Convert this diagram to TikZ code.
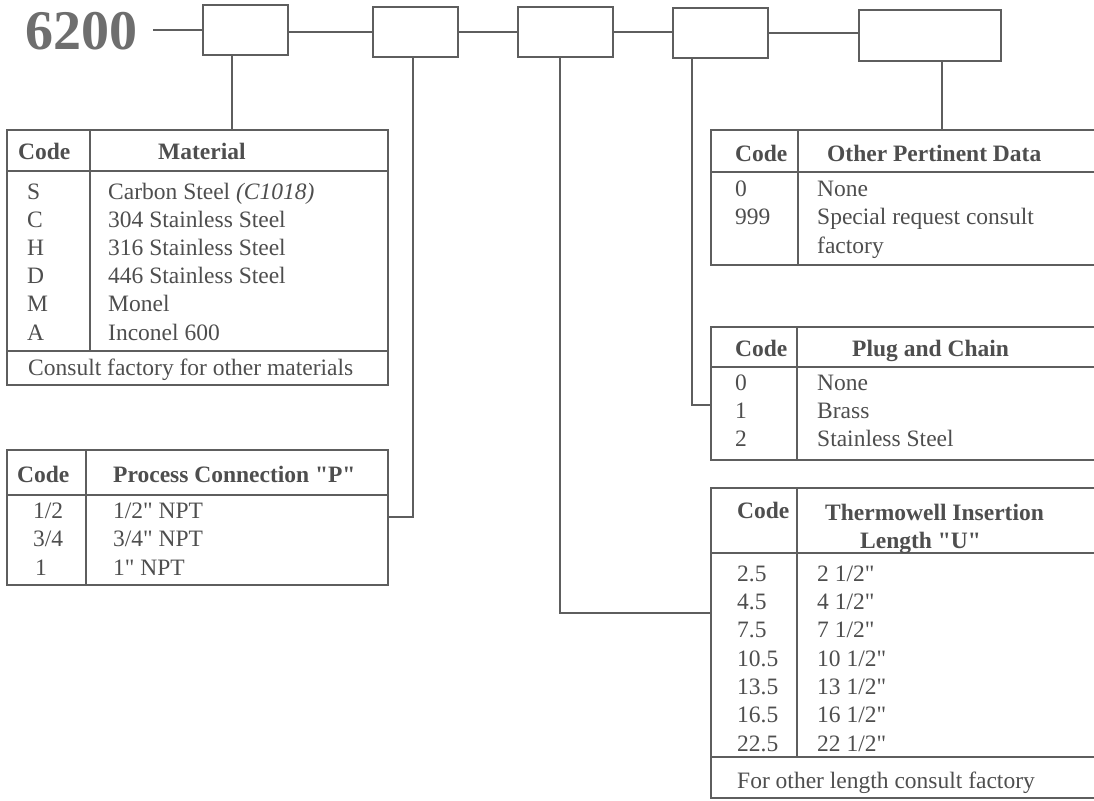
\documentclass[tikz,border=0pt]{standalone}
\usepackage{fontspec}
\setmainfont{Liberation Serif}[Ligatures=TeXOff]
\definecolor{lc}{HTML}{5E5E5E}
\definecolor{tc}{HTML}{4E4E4E}
\definecolor{nc}{HTML}{6E6E6E}
\newcommand{\dq}{{\char34}}
\begin{document}
\begin{tikzpicture}[x=1pt,y=-1pt,
  ln/.style={draw=lc, line width=1.8pt},
  box/.style={ln, rectangle, inner sep=0pt, minimum height=50pt},
  tbl/.style={ln, rectangle, inner sep=0pt},
  txt/.style={font=\fontsize{23.5}{28.3}\selectfont, text=tc, inner sep=0pt, anchor=base west},
  hd/.style={txt, font=\fontsize{23.5}{28.3}\selectfont\bfseries},
  big/.style={font=\fontsize{56}{60}\selectfont\bfseries, text=nc, inner sep=0pt, anchor=base west}]
\useasboundingbox (0,0) rectangle (1094,800);
\fill[white] (0,0) rectangle (1094,800);

% code boxes
\node[big] (num) at (25,49) {6200};
\node[box, minimum width=85pt] (b1) at (245.5,30) {};
\node[box, minimum width=85pt] (b2) at (415.5,32) {};
\node[box, minimum width=95pt] (b3) at (565.5,32) {};
\node[box, minimum width=95pt] (b4) at (720.5,33) {};
\node[box, minimum width=142pt, minimum height=51pt] (b5) at (930,35.5) {};
\coordinate (s0) at (153,30);
\draw[ln] (s0) -- (b1.west);
\draw[ln] (b1.east |- b2.west) -- (b2.west);
\draw[ln] (b2.east) -- (b3.west);
\draw[ln] (b3.east) -- (b3.east -| b4.west);
\draw[ln] (b4.east) -- (b4.east -| b5.west);

% tables (outlines)
\node[tbl, minimum width=381pt, minimum height=255pt] (mat) at (197.5,257.5) {};
\node[tbl, minimum width=381pt, minimum height=135pt] (proc) at (197.5,517.5) {};
\node[tbl, minimum width=399pt, minimum height=135pt] (oth) at (910.5,197.5) {};
\node[tbl, minimum width=399pt, minimum height=133pt] (plug) at (910.5,393.5) {};
\node[tbl, minimum width=399pt, minimum height=310pt] (thw) at (910.5,643) {};

% inner table lines
\draw[ln] (7,171) -- (388,171);
\draw[ln] (7,351) -- (388,351);
\draw[ln] (90,130) -- (90,351);
\draw[ln] (7,495) -- (388,495);
\draw[ln] (86,450) -- (86,585);
\draw[ln] (711,172) -- (1110,172);
\draw[ln] (798,130) -- (798,265);
\draw[ln] (711,367) -- (1110,367);
\draw[ln] (797,327) -- (797,460);
\draw[ln] (711,553) -- (1110,553);
\draw[ln] (711,757) -- (1110,757);
\draw[ln] (797,488) -- (797,757);

% connectors
\coordinate (c1) at (232,55);
\draw[ln] (c1) -- (c1 |- mat.north);
\coordinate (c2) at (413,57);
\coordinate (h2) at (388,517);
\draw[ln] (c2) |- (h2);
\coordinate (c3) at (560,57);
\coordinate (h3) at (711,613);
\draw[ln] (c3) |- (h3);
\coordinate (c4) at (692,58);
\coordinate (h4) at (711,405);
\draw[ln] (c4) |- (h4);
\coordinate (c5) at (942,61);
\draw[ln] (c5) -- (c5 |- oth.north);

% Material table text
\node[hd] (mh1) at (18,159) {Code};
\node[hd] (mh2) at (158,159) {Material};
\node[txt] (mc1) at (27,199) {S};
\node[txt] (md1) at (108,199) {Carbon Steel \textit{(C1018)}};
\node[txt] (mc2) at (27,227.2) {C};
\node[txt] (md2) at (108,227.2) {304 Stainless Steel};
\node[txt] (mc3) at (27,255.4) {H};
\node[txt] (md3) at (108,255.4) {316 Stainless Steel};
\node[txt] (mc4) at (27,283.6) {D};
\node[txt] (md4) at (108,283.6) {446 Stainless Steel};
\node[txt] (mc5) at (27,311.8) {M};
\node[txt] (md5) at (108,311.8) {Monel};
\node[txt] (mc6) at (27,340) {A};
\node[txt] (md6) at (108,340) {Inconel 600};
\node[txt] (mf) at (28,375) {Consult factory for other materials};

% Process connection table text
\node[hd] (ph1) at (17,482) {Code};
\node[hd] (ph2) at (113,482) {Process Connection \dq P\dq};
\node[txt] (pc1) at (33,518) {1/2};
\node[txt] (pd1) at (113,518) {1/2\dq{} NPT};
\node[txt] (pc2) at (33,546) {3/4};
\node[txt] (pd2) at (113,546) {3/4\dq{} NPT};
\node[txt] (pc3) at (35,575) {1};
\node[txt] (pd3) at (113,575) {1\dq{} NPT};

% Other pertinent data table text
\node[hd] (oh1) at (735,161) {Code};
\node[hd] (oh2) at (827,161) {Other Pertinent Data};
\node[txt] (oc1) at (735,196) {0};
\node[txt] (od1) at (817,196) {None};
\node[txt] (oc2) at (735,224.5) {999};
\node[txt] (od2) at (817,224.5) {Special request consult};
\node[txt] (od3) at (817,253) {factory};

% Plug and chain table text
\node[hd] (gh1) at (735,356) {Code};
\node[hd] (gh2) at (852,356) {Plug and Chain};
\node[txt] (gc1) at (735,390) {0};
\node[txt] (gd1) at (817,390) {None};
\node[txt] (gc2) at (735,418) {1};
\node[txt] (gd2) at (817,418) {Brass};
\node[txt] (gc3) at (735,446) {2};
\node[txt] (gd3) at (817,446) {Stainless Steel};

% Thermowell table text
\node[hd] (th1) at (737,518) {Code};
\node[hd] (th2) at (825,520) {Thermowell Insertion};
\node[hd] (th3) at (860,548) {Length \dq U\dq};
\node[txt] (tc1) at (737,581) {2.5};
\node[txt] (td1) at (817,581) {2 1/2\dq};
\node[txt] (tc2) at (737,609.3) {4.5};
\node[txt] (td2) at (817,609.3) {4 1/2\dq};
\node[txt] (tc3) at (737,637.6) {7.5};
\node[txt] (td3) at (817,637.6) {7 1/2\dq};
\node[txt] (tc4) at (737,666) {10.5};
\node[txt] (td4) at (817,666) {10 1/2\dq};
\node[txt] (tc5) at (737,694.3) {13.5};
\node[txt] (td5) at (817,694.3) {13 1/2\dq};
\node[txt] (tc6) at (737,722.6) {16.5};
\node[txt] (td6) at (817,722.6) {16 1/2\dq};
\node[txt] (tc7) at (737,751) {22.5};
\node[txt] (td7) at (817,751) {22 1/2\dq};
\node[txt] (tf) at (737,788) {For other length consult factory};
\end{tikzpicture}
\end{document}
